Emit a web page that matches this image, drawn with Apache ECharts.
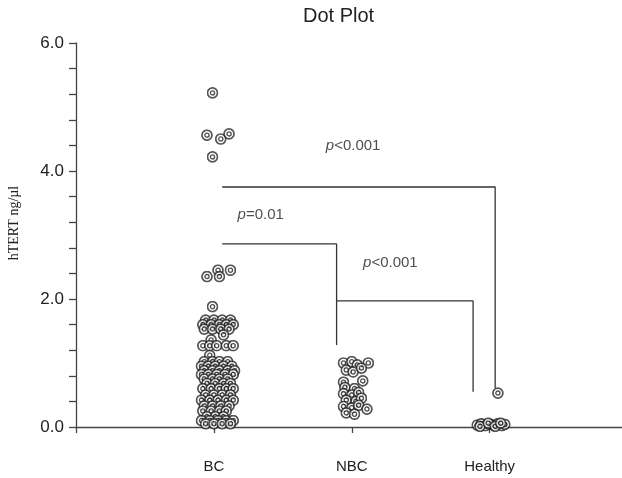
<!DOCTYPE html>
<html>
<head>
<meta charset="utf-8">
<title>Dot Plot</title>
<script src="https://cdn.jsdelivr.net/npm/echarts@6/dist/echarts.min.js"></script>
<style>
  html, body { margin: 0; padding: 0; background: #fff; }
  #chart { width: 622px; height: 478px; }
</style>
</head>
<body>
<div id="chart"></div>
<script>
// categories on the x axis (placed at 1, 2, 3)
const categories = ['BC', 'NBC', 'Healthy'];
const yTicks = [0, 2, 4, 6];

// [horizontal jitter, hTERT ng/ul]
const bcDots = [
  [-0.01, 5.22], [-0.05, 4.56], [0.05, 4.50], [0.11, 4.58], [-0.01, 4.22],
  [0.03, 2.45], [0.12, 2.45], [-0.05, 2.35], [0.04, 2.35],
  [-0.01, 1.88],
  [-0.06, 1.67], [0.00, 1.67], [0.06, 1.67], [0.12, 1.67],
  [-0.08, 1.60], [-0.02, 1.60], [0.04, 1.60], [0.09, 1.60], [0.14, 1.60],
  [-0.07, 1.53], [-0.01, 1.53], [0.05, 1.53], [0.11, 1.53],
  [0.07, 1.44], [-0.02, 1.36],
  [-0.08, 1.27], [-0.03, 1.27], [0.02, 1.27], [0.09, 1.27], [0.14, 1.27],
  [-0.03, 1.12],
  [-0.07, 1.02], [-0.01, 1.02], [0.04, 1.02], [0.10, 1.02],
  [-0.09, 0.95], [-0.04, 0.95], [0.01, 0.95], [0.07, 0.95], [0.13, 0.95],
  [-0.07, 0.88], [-0.01, 0.88], [0.04, 0.88], [0.10, 0.88], [0.15, 0.88],
  [-0.09, 0.82], [-0.04, 0.82], [0.02, 0.82], [0.08, 0.82], [0.14, 0.82],
  [-0.07, 0.75], [-0.01, 0.75], [0.04, 0.75], [0.10, 0.75],
  [-0.05, 0.68], [0.01, 0.68], [0.07, 0.68], [0.12, 0.68],
  [-0.08, 0.60], [-0.02, 0.60], [0.04, 0.60], [0.09, 0.60], [0.14, 0.60],
  [-0.06, 0.50], [0.00, 0.50], [0.06, 0.50], [0.12, 0.50],
  [-0.09, 0.42], [-0.03, 0.42], [0.03, 0.42], [0.09, 0.42], [0.14, 0.42],
  [-0.07, 0.33], [-0.01, 0.33], [0.05, 0.33], [0.11, 0.33],
  [-0.08, 0.25], [-0.02, 0.25], [0.04, 0.25], [0.09, 0.25],
  [-0.05, 0.16], [0.01, 0.16], [0.07, 0.16],
  [-0.09, 0.10], [-0.03, 0.10], [0.03, 0.10], [0.09, 0.10], [0.14, 0.10],
  [-0.06, 0.05], [0.00, 0.05], [0.06, 0.05], [0.12, 0.05]
];
const nbcDots = [
  [-0.06, 1.00], [0.00, 1.02], [0.04, 0.97], [0.12, 1.00],
  [-0.04, 0.89], [0.01, 0.86], [0.07, 0.92],
  [-0.06, 0.70], [0.08, 0.72], [-0.05, 0.62], [0.02, 0.60],
  [-0.06, 0.52], [0.00, 0.50], [0.05, 0.54],
  [-0.04, 0.42], [0.03, 0.40], [0.07, 0.45],
  [-0.06, 0.32], [0.00, 0.30], [0.05, 0.34], [0.11, 0.28],
  [-0.04, 0.22], [0.02, 0.20]
];
const healthyDots = [
  [0.06, 0.53],
  [-0.09, 0.03], [-0.06, 0.05], [-0.03, 0.02], [0.00, 0.04], [0.03, 0.03],
  [0.06, 0.05], [0.09, 0.02], [0.11, 0.04], [-0.07, 0.01], [-0.01, 0.06],
  [0.04, 0.01], [0.08, 0.06]
];

// significance brackets, in axis units
const brackets = [
  [[1.06, 3.75], [3.04, 3.75], [3.04, 0.61]],
  [[1.06, 2.86], [1.89, 2.86], [1.89, 1.28]],
  [[1.89, 1.97], [2.88, 1.97], [2.88, 0.55]]
];
const pLabels = [
  ['<0.001', 2.01, 4.39],
  ['=0.01', 1.34, 3.31],
  ['<0.001', 2.28, 2.56]
];

// double-ring marker like the original plot
const ringSvg = '<svg xmlns="http://www.w3.org/2000/svg" width="24" height="24" viewBox="0 0 24 24">' +
  '<circle cx="12" cy="12" r="10" fill="#fff" stroke="#2a2a2a" stroke-width="3.4"/>' +
  '<circle cx="12" cy="12" r="4.2" fill="#fff" stroke="#222" stroke-width="2.6"/></svg>';
const ringSymbol = 'image://data:image/svg+xml;charset=utf-8,' + encodeURIComponent(ringSvg);

const chart = echarts.init(document.getElementById('chart'));

const dotSeries = [bcDots, nbcDots, healthyDots].map((group, i) => ({
  type: 'scatter',
  name: categories[i],
  z: 3,
  symbol: ringSymbol,
  symbolSize: 12,
  data: group.map(d => [i + 1 + d[0], d[1]])
}));

const bracketSeries = brackets.map(b => ({
  type: 'line',
  z: 2,
  symbol: 'none',
  lineStyle: { color: '#333', width: 1.3 },
  data: b
}));

const labelSeries = {
  type: 'scatter',
  z: 4,
  symbolSize: 0,
  data: pLabels.map(p => ({ value: [p[1], p[2]], text: p[0] })),
  label: {
    show: true,
    position: 'inside',
    formatter: params => '{i|p}' + params.data.text,
    fontFamily: 'Liberation Sans, Arial, sans-serif',
    fontSize: 15,
    color: '#222',
    rich: {
      i: { fontStyle: 'italic', fontSize: 15, color: '#222', fontFamily: 'Liberation Sans, Arial, sans-serif' }
    }
  }
};

chart.setOption({
  animation: false,
  backgroundColor: '#fff',
  title: {
    text: 'Dot Plot',
    left: 298,
    top: 1,
    textStyle: {
      fontFamily: 'Liberation Sans, Arial, sans-serif',
      fontSize: 20,
      fontWeight: 'normal',
      color: '#222'
    }
  },
  graphic: [{
    type: 'text',
    x: 14,
    y: 223,
    rotation: Math.PI / 2,
    style: {
      text: 'hTERT ng/\u00b5l',
      align: 'center',
      verticalAlign: 'middle',
      fontFamily: 'Liberation Serif, Times New Roman, serif',
      fontSize: 14,
      fill: '#222'
    }
  }],
  grid: { left: 76, right: 0, top: 43, bottom: 51 },
  xAxis: {
    type: 'value',
    min: 0,
    max: 3.96,
    interval: 1,
    splitLine: { show: false },
    axisLine: { lineStyle: { color: '#444', width: 1.3 } },
    axisTick: { length: 6, customValues: [0, 1, 2, 3], lineStyle: { color: '#444', width: 1.3 } },
    axisLabel: {
      customValues: [1, 2, 3],
      margin: 32,
      formatter: v => categories[Math.round(v) - 1] || '',
      fontFamily: 'Liberation Sans, Arial, sans-serif',
      fontSize: 15,
      color: '#222'
    }
  },
  yAxis: {
    type: 'value',
    min: 0,
    max: 6,
    interval: 0.4,
    splitLine: { show: false },
    axisLine: { show: true, lineStyle: { color: '#444', width: 1.3 } },
    axisTick: { show: true, length: 7, lineStyle: { color: '#444', width: 1.3 } },
    axisLabel: {
      customValues: yTicks,
      margin: 12,
      formatter: v => v.toFixed(1),
      fontFamily: 'Liberation Sans, Arial, sans-serif',
      fontSize: 17,
      color: '#222'
    }
  },
  series: [...bracketSeries, ...dotSeries, labelSeries]
});
</script>
</body>
</html>
